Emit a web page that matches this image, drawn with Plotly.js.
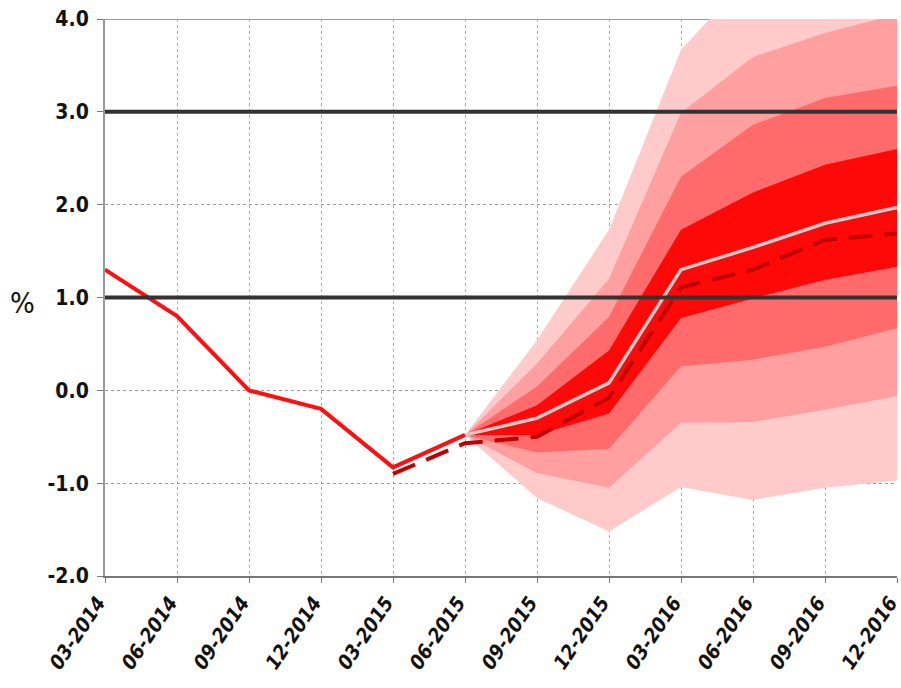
<!DOCTYPE html>
<html><head><meta charset="utf-8">
<script src="https://cdn.plot.ly/plotly-3.0.1.min.js"></script>
<style>html,body{margin:0;padding:0;background:#fff}#c{width:901px;height:688px}</style>
</head><body><div id="c"></div>
<script>
const quarters = ["03-2014","06-2014","09-2014","12-2014","03-2015","06-2015","09-2015","12-2015","03-2016","06-2016","09-2016","12-2016"];
const actualX = ["03-2014","06-2014","09-2014","12-2014","03-2015","06-2015"];
const actualY = [1.3, 0.8, 0.0, -0.2, -0.83, -0.48];
const prevX = ["03-2015","06-2015","09-2015","12-2015","03-2016","06-2016","09-2016","12-2016"];
const prevY = [-0.9, -0.57, -0.5, -0.08, 1.11, 1.3, 1.62, 1.69];
const fcX = ["06-2015","09-2015","12-2015","03-2016","06-2016","09-2016","12-2016"];
const central = [-0.48, -0.3, 0.08, 1.3, 1.54, 1.8, 1.97];
// bands: upper / lower bounds
const band90Up = [-0.48, 0.54, 1.73, 3.67, 4.5, 4.8, 5.0];
const band90Lo = [-0.48, -1.16, -1.52, -1.04, -1.18, -1.05, -0.97];
const band70Up = [-0.48, 0.29, 1.2, 2.99, 3.59, 3.85, 4.05];
const band70Lo = [-0.48, -0.89, -1.05, -0.35, -0.34, -0.21, -0.06];
const band50Up = [-0.48, 0.04, 0.79, 2.3, 2.86, 3.15, 3.28];
const band50Lo = [-0.48, -0.67, -0.63, 0.26, 0.33, 0.47, 0.67];
const band30Up = [-0.48, -0.16, 0.43, 1.73, 2.13, 2.43, 2.6];
const band30Lo = [-0.48, -0.48, -0.25, 0.78, 0.99, 1.19, 1.33];
const yTicks = [-2, -1, 0, 1, 2, 3, 4];
const yTickText = ["-2.0","-1.0","0.0","1.0","2.0","3.0","4.0"];
const refLines = [1, 3];
const yUnit = "%";

function band(up, lo, color) {
  return {x: fcX.concat(fcX.slice().reverse()), y: up.concat(lo.slice().reverse()),
    type: 'scatter', mode: 'lines', fill: 'toself', fillcolor: color,
    line: {width: 0, color: color}, hoverinfo: 'skip', showlegend: false};
}
const traces = [
  band(band90Up, band90Lo, '#ffcaca'),
  band(band70Up, band70Lo, '#ff9f9f'),
  band(band50Up, band50Lo, '#ff6a6a'),
  band(band30Up, band30Lo, '#ff0808'),
  {x: prevX, y: prevY, type: 'scatter', mode: 'lines', line: {color: '#c00000', width: 4, dash: '24px,12px'}, showlegend: false},
  {x: fcX, y: central, type: 'scatter', mode: 'lines', line: {color: '#e0c8c8', width: 3.5}, showlegend: false},
  {x: actualX, y: actualY, type: 'scatter', mode: 'lines', line: {color: '#ff1010', width: 4}, showlegend: false}
];
const shapes = refLines.map(v => ({type: 'line', xref: 'paper', x0: 0, x1: 1, yref: 'y', y0: v, y1: v,
  line: {color: '#333333', width: 4}, layer: 'above'}));
shapes.push({type: 'line', xref: 'paper', x0: 0, x1: 1, yref: 'y', y0: 4, y1: 4, line: {color: '#777', width: 1.5}, layer: 'below'});
const fam = '"DejaVu Sans Condensed", "Liberation Sans Narrow", "Arial Narrow", sans-serif';
const fnt = {family: fam, size: 21, color: '#111', weight: 'bold'};
const layout = {
  width: 901, height: 688,
  margin: {l: 105, r: 4, t: 19, b: 112},
  paper_bgcolor: '#fff', plot_bgcolor: '#fff',
  showlegend: false,
  xaxis: {type: 'category', categoryorder: 'array', categoryarray: quarters, range: [0, 11],
    tickmode: 'array', tickvals: quarters, ticktext: quarters,
    tickangle: -56, ticks: 'outside', ticklen: 5, tickcolor: '#777', ticklabelshift: -7,
    showgrid: true, gridcolor: '#aaa', griddash: 'dot', gridwidth: 1,
    showline: true, linecolor: '#777', linewidth: 2, zeroline: false,
    tickfont: Object.assign({}, fnt, {style: 'italic', size: 20})},
  yaxis: {range: [-2, 4], tickmode: 'array', tickvals: yTicks, ticktext: yTickText,
    ticks: 'outside', ticklen: 6, tickcolor: '#777', ticklabelstandoff: 4,
    showgrid: true, gridcolor: '#999', griddash: 'dot', gridwidth: 1,
    showline: true, linecolor: '#999', linewidth: 2, zeroline: false,
    tickfont: fnt},
  annotations: [{text: yUnit, xref: 'paper', x: 0, xanchor: 'center', xshift: -83, yref: 'y', y: 1.0, yshift: -5,
    showarrow: false, font: {family: fam, size: 29, color: '#111'}}],
  shapes: shapes
};
Plotly.newPlot('c', traces, layout, {displayModeBar: false, staticPlot: true});
</script>
</body></html>
